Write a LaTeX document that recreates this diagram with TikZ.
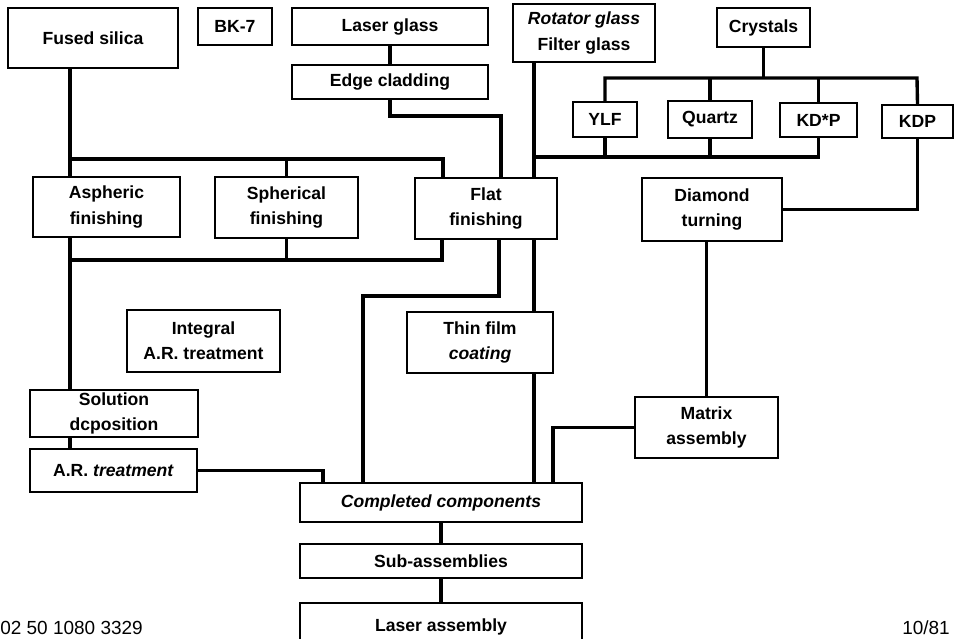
\documentclass[tikz,border=0pt]{standalone}
\usepackage{fontspec}
\setmainfont{Liberation Sans}
\newcommand{\stagefont}{\fontsize{12.5}{18}\selectfont\bfseries}

\begin{document}
\begin{tikzpicture}[x=0.025cm, y=-0.025cm,
  stage/.style 2 args={draw, line width=1.3pt, minimum width=#1*0.025cm,
    minimum height=#2*0.025cm, inner sep=0pt, align=center, font=\stagefont},
  wire/.style={line width=2.4pt}]
\useasboundingbox (0,0) rectangle (959,638);
\clip (0,0) rectangle (959,638);

% raw materials
\node[stage={170}{60}] (fused) at (93,38) {Fused silica};
\node[stage={74}{37}] (bk) at (235,26.5) {BK-7};
\node[stage={196}{37}] (lglass) at (390,26.5) {Laser glass};
\node[stage={196}{34}] (edge) at (390,82) {Edge cladding};
\node[stage={142}{58}] (rot) at (584,33) {\itshape Rotator glass\\Filter glass};
\node[stage={93}{39}] (cryst) at (763.5,27.5) {Crystals};
\node[stage={64}{35}] (ylf) at (605,119.5) {YLF};
\node[stage={84}{37}] (quartz) at (710,119.5) {Quartz};
\node[stage={77}{34}] (kdsp) at (818.5,120) {KD*P};
\node[stage={71}{33}] (kdp) at (917.5,121.5) {KDP};

% finishing
\node[stage={147}{60}] (asph) at (106.5,207) {Aspheric\\finishing};
\node[stage={143}{61}] (sph) at (286.5,207.5) {Spherical\\finishing};
\node[stage={142}{61}] (flat) at (486,208.5) {Flat\\finishing};
\node[stage={140}{63}] (diam) at (712,209.5) {Diamond\\turning};

% treatment
\node[stage={153}{62}] (integ) at (203.5,341) {Integral\\A.R. treatment};
\node[stage={146}{61}] (thin) at (480,342.5) {Thin film\\\textit{coating}};
\node[stage={168}{47}] (sol) at (114,413.5) {Solution\\dcposition};
\node[stage={167}{43}] (art) at (113.5,470.5) {A.R. \textit{treatment}};
\node[stage={143}{61}] (matrix) at (706.5,427.5) {Matrix\\assembly};

% assembly
\node[stage={282}{39}] (comp) at (441,502.5) {\itshape Completed components};
\node[stage={282}{34}] (sub) at (441,561) {Sub-assemblies};
\node[stage={282}{47}] (laser) at (441,626.5) {Laser assembly};

\node[anchor=west, font=\fontsize{13.5}{14}\selectfont, inner sep=0pt] (code) at (0,628) {02 50 1080 3329};
\node[font=\fontsize{13.5}{14}\selectfont, inner sep=0pt] (date) at (926,628) {10/81};

\coordinate (fbusL) at (70,159);
\coordinate (fbusR) at (443,159);
\coordinate (ecorner) at (501,116);
\coordinate (rbus) at (534,157);
\coordinate (cbusL) at (605,78);
\coordinate (cbusR) at (917,78);
\coordinate (gbusL) at (70,260);
\coordinate (gbusR) at (442,260);
\coordinate (acorner) at (323,467);
\coordinate (fcorner1) at (499,296);
\coordinate (fcorner2) at (363,296);
\coordinate (mcorner) at (553,429);

% connectors
\draw[wire] (fused.south -| fbusL) -- (asph.north -| fbusL);
\draw[wire] (fbusL) -- (fbusR) -- (flat.north -| fbusR);
\draw[wire] (sph.north) -- (sph.north |- fbusL);
\draw[wire] (lglass.south) -- (edge.north);
\draw[wire] (edge.south) |- (ecorner) -- (flat.north -| ecorner);
\draw[wire] (rot.south -| rbus) -- (flat.north -| rbus);
\draw[wire] (cryst.south) -- (cryst.south |- cbusL);
\draw[wire] (ylf.north) |- (cbusR) -- (kdp.north);
\draw[wire] (quartz.north) -- (quartz.north |- cbusL);
\draw[wire] (kdsp.north) -- (kdsp.north |- cbusL);
\draw[wire] (rbus) -| (kdsp.south);
\draw[wire] (ylf.south) -- (ylf.south |- rbus);
\draw[wire] (quartz.south) -- (quartz.south |- rbus);
\draw[wire] (kdp.south) |- (diam.east);
\draw[wire] (asph.south -| fbusL) -- (sol.north -| fbusL);
\draw[wire] (gbusL) -- (gbusR) -- (flat.south -| gbusR);
\draw[wire] (sph.south) -- (sph.south |- gbusL);
\draw[wire] (sol.south -| fbusL) -- (art.north -| fbusL);
\draw[wire] (art.east) -| (comp.north -| acorner);
\draw[wire] (flat.south -| fcorner1) -- (fcorner1) -- (fcorner2) -- (comp.north -| fcorner2);
\draw[wire] (flat.south -| rbus) -- (thin.north -| rbus);
\draw[wire] (thin.south -| rbus) -- (comp.north -| rbus);
\draw[wire] (diam.south -| matrix.north) -- (matrix.north);
\draw[wire] (matrix.west) -| (comp.north -| mcorner);
\draw[wire] (comp.south) -- (sub.north);
\draw[wire] (sub.south) -- (laser.north);
\end{tikzpicture}
\end{document}
